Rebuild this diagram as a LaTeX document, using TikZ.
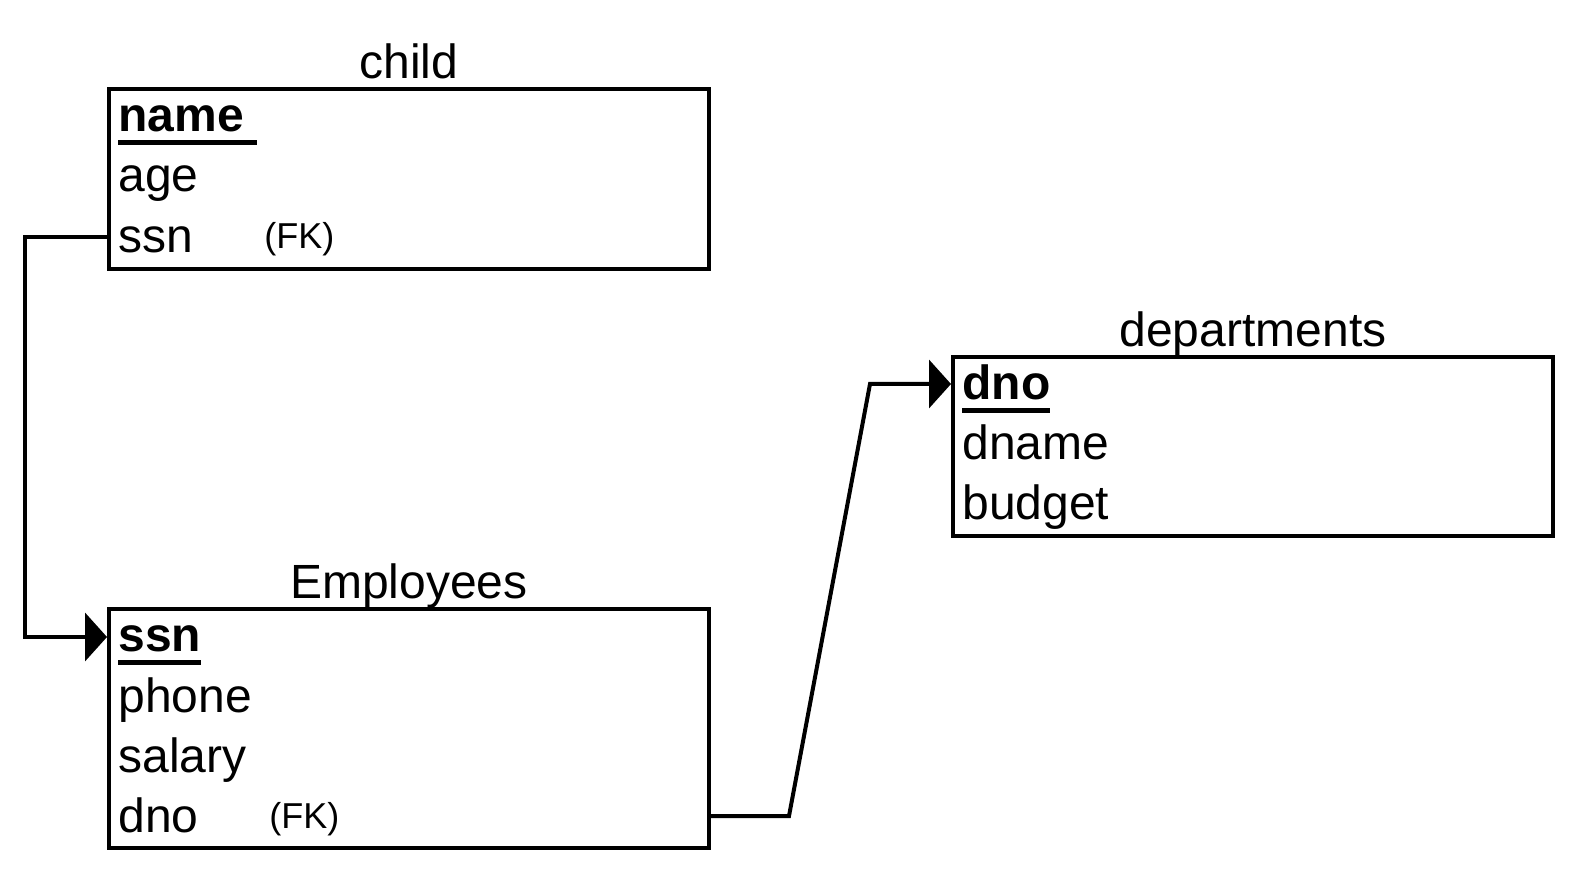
\documentclass[tikz,border=0pt]{standalone}
\usepackage{fontspec}
\setmainfont{Liberation Sans}
\usetikzlibrary{arrows.meta}

% primary key: bold, underlined
\newcommand\pkey[1]{\setbox0\hbox{\bfseries #1}\rlap{\rule[-6.5pt]{\wd0}{2.5pt}}\box0}

\tikzset{
    table/.style={draw,line width=2pt,inner sep=0pt,minimum width=300pt},
    tabletitle/.style={anchor=base,inner sep=0pt,font=\fontsize{24}{28}\selectfont},
    field/.style={anchor=base west,inner sep=0pt,font=\fontsize{24}{28}\selectfont},
    fknote/.style={anchor=base west,inner sep=0pt,font=\fontsize{18}{22}\selectfont},
    fkline/.style={line width=2pt,-{Triangle[length=11pt,width=24pt]}}
}

\begin{document}
\begin{tikzpicture}[x=0.5pt,y=-0.5pt]
        \useasboundingbox (0,0) rectangle (1580,876);

        % tables
        \node[table,minimum height=90pt] (child) at (409,179) {};
        \node[table,minimum height=119.5pt] (emp) at (409,728.5) {};
        \node[table,minimum height=89.5pt] (dept) at (1253,446.5) {};

        \node[tabletitle] (childtitle) at (409,79) {child};
        \node[tabletitle] (emptitle) at (409,599) {Employees};
        \node[tabletitle] (depttitle) at (1253,347) {departments};

        % child
        \node[field] (cname) at (118,132) {\pkey{name\ }};
        \node[field] (cage) at (118,192) {age};
        \node[field] (cssn) at (118,253) {ssn};
        \node[fknote] (cfk) at (264,249) {(FK)};

        % Employees
        \node[field] (essn) at (118,652) {\pkey{ssn}};
        \node[field] (ephone) at (118,712) {phone};
        \node[field] (esalary) at (118,772) {salary};
        \node[field] (edno) at (118,832) {dno};
        \node[fknote] (efk) at (269,828) {(FK)};

        % departments
        \node[field] (ddno) at (962,400) {\pkey{dno}};
        \node[field] (ddname) at (962,460) {dname};
        \node[field] (dbudget) at (962,520) {budget};

        % foreign keys
        \draw[fkline] ([yshift=8pt]cssn.base -| child.west) -- ++(-82,0)
            |- ([yshift=7.5pt]essn.base -| emp.west);
        \draw[fkline] ([yshift=8pt]edno.base -| emp.east) -- ++(78,0)
            -- ([xshift=-40.5pt,yshift=8pt]ddno.base -| dept.west)
            -- ([yshift=8pt]ddno.base -| dept.west);
    \end{tikzpicture}
\end{document}
